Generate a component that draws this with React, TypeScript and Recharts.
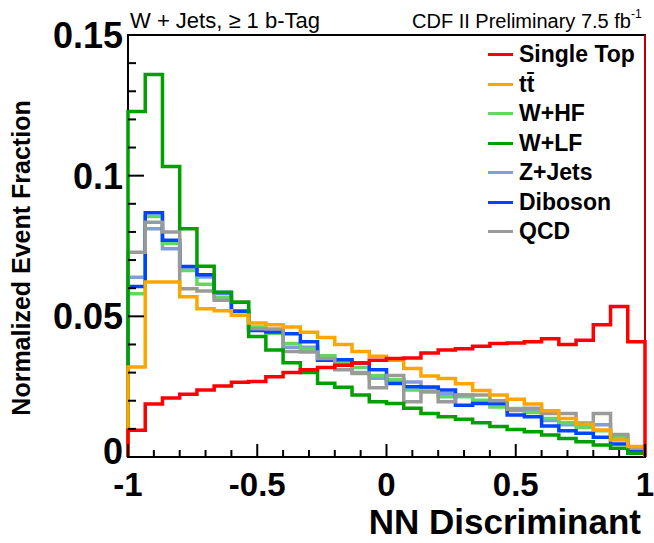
import React from 'react';
import {
  ComposedChart,
  Line,
  XAxis,
  YAxis,
  Legend,
  ReferenceArea,
  ReferenceLine,
} from 'recharts';

// NN discriminant bin edges (30 bins from -1 to 1)
const BIN_EDGES = [
  -1, -0.9333, -0.8667, -0.8, -0.7333, -0.6667, -0.6, -0.5333, -0.4667, -0.4,
  -0.3333, -0.2667, -0.2, -0.1333, -0.0667, 0, 0.0667, 0.1333, 0.2, 0.2667,
  0.3333, 0.4, 0.4667, 0.5333, 0.6, 0.6667, 0.7333, 0.8, 0.8667, 0.9333, 1,
];

const SINGLE_TOP = [
  0.0095, 0.0188, 0.021, 0.0223, 0.0238, 0.0252, 0.0266, 0.0268, 0.0285, 0.03,
  0.031, 0.0318, 0.0326, 0.0334, 0.0344, 0.035, 0.0352, 0.037, 0.038, 0.0385,
  0.0394, 0.0403, 0.0405, 0.041, 0.042, 0.04, 0.0415, 0.047, 0.0535, 0.041,
];
const TTBAR = [
  0.032, 0.0622, 0.0622, 0.057, 0.0527, 0.052, 0.0504, 0.0476, 0.047, 0.0462,
  0.0443, 0.0425, 0.04, 0.0375, 0.0358, 0.0344, 0.0315, 0.0288, 0.0279, 0.026,
  0.0236, 0.022, 0.0205, 0.0188, 0.0164, 0.0137, 0.0116, 0.0096, 0.006, 0.0037,
];
const W_HF = [
  0.058, 0.0855, 0.076, 0.0663, 0.0614, 0.0566, 0.052, 0.0462, 0.044, 0.0403,
  0.0383, 0.036, 0.0338, 0.0318, 0.029, 0.0275, 0.0238, 0.0232, 0.0214, 0.0214,
  0.0202, 0.0178, 0.0172, 0.0158, 0.0137, 0.0122, 0.0105, 0.0093, 0.007, 0.0035,
];
const W_LF = [
  0.1228, 0.136, 0.1033, 0.0811, 0.0678, 0.0586, 0.055, 0.0428, 0.038, 0.0335,
  0.03, 0.0262, 0.0248, 0.022, 0.0196, 0.019, 0.0173, 0.0155, 0.0143, 0.0134,
  0.0122, 0.0108, 0.0098, 0.009, 0.0078, 0.0066, 0.0054, 0.0043, 0.0031, 0.0013,
];
const Z_JETS = [
  0.0639, 0.0811, 0.074, 0.0675, 0.064, 0.058, 0.0518, 0.0452, 0.0448, 0.039,
  0.039, 0.035, 0.033, 0.03, 0.028, 0.0273, 0.0267, 0.0245, 0.0225, 0.022,
  0.02, 0.0185, 0.0165, 0.0165, 0.013, 0.0115, 0.012, 0.0115, 0.0075, 0.0035,
];
const DIBOSON = [
  0.0606, 0.0868, 0.077, 0.0677, 0.0648, 0.0585, 0.0518, 0.045, 0.0444, 0.0438,
  0.041, 0.0344, 0.0346, 0.0334, 0.031, 0.0261, 0.025, 0.0249, 0.0238, 0.0184,
  0.019, 0.019, 0.0149, 0.0143, 0.011, 0.0093, 0.0084, 0.007, 0.0046, 0.002,
];
const QCD = [
  0.0728, 0.0834, 0.08, 0.0598, 0.059, 0.0557, 0.0551, 0.0456, 0.0455, 0.0375,
  0.0373, 0.035, 0.031, 0.0297, 0.0246, 0.029, 0.0196, 0.0232, 0.0196, 0.022,
  0.022, 0.02, 0.017, 0.0173, 0.0155, 0.0155, 0.012, 0.0155, 0.008, 0.0034,
];

const X_TICKS = [-1, -0.9, -0.8, -0.7, -0.6, -0.5, -0.4, -0.3, -0.2, -0.1, 0, 0.1, 0.2, 0.3, 0.4, 0.5, 0.6, 0.7, 0.8, 0.9, 1];
const X_LABELS: Record<string, string> = { '-1': '-1', '-0.5': '-0.5', '0': '0', '0.5': '0.5', '1': '1' };
const Y_TICKS = [0, 0.01, 0.02, 0.03, 0.04, 0.05, 0.06, 0.07, 0.08, 0.09, 0.1, 0.11, 0.12, 0.13, 0.14, 0.15];
const Y_LABELS: Record<string, string> = { '0': '0', '0.05': '0.05', '0.1': '0.1', '0.15': '0.15' };

// legend order; drawing order is DRAW_ORDER
const SERIES = [
  { name: 'Single Top', values: SINGLE_TOP, color: '#ff0000' },
  { name: 'tt\u0304', values: TTBAR, color: '#ffa500' },
  { name: 'W+HF', values: W_HF, color: '#62d862' },
  { name: 'W+LF', values: W_LF, color: '#00a000' },
  { name: 'Z+Jets', values: Z_JETS, color: '#809ed8' },
  { name: 'Diboson', values: DIBOSON, color: '#0044ff' },
  { name: 'QCD', values: QCD, color: '#9a9a9a' },
];
const DRAW_ORDER = ['Z+Jets', 'W+HF', 'Diboson', 'QCD', 'W+LF', 'tt\u0304', 'Single Top'];

const FONT = '"Liberation Sans", Arial, Helvetica, sans-serif';

// histogram outline: up from 0 at the first edge, down to 0 at the last
function stepData(values: number[]) {
  const pts = [{ x: BIN_EDGES[0], y: 0 }];
  values.forEach((v, i) => pts.push({ x: BIN_EDGES[i], y: v }));
  pts.push({ x: BIN_EDGES[values.length], y: values[values.length - 1] });
  pts.push({ x: BIN_EDGES[values.length], y: 0 });
  return pts;
}

const keyOf = (v: number) => String(Math.round(v * 100) / 100);

function YTick(props: any) {
  const { x, y, payload } = props;
  const label = Y_LABELS[keyOf(payload.value)];
  const len = label !== undefined ? 16 : 8;
  return (
    <g>
      <line x1={x} x2={x + len} y1={y} y2={y} stroke="#000" strokeWidth={2} />
      {label !== undefined && (
        <text x={x - 5} y={label === '0' ? y - 6 : y} dy="0.36em" textAnchor="end" fontFamily={FONT} fontWeight="bold" fontSize={36} fill="#000">
          {label}
        </text>
      )}
    </g>
  );
}

function XTick(props: any) {
  const { x, y, payload } = props;
  const label = X_LABELS[keyOf(payload.value)];
  const len = label !== undefined ? 13 : 7;
  return (
    <g>
      <line x1={x} x2={x} y1={y} y2={y - len} stroke="#000" strokeWidth={2} />
      {label !== undefined && (
        <text x={x} y={y + 39} textAnchor="middle" fontFamily={FONT} fontWeight="bold" fontSize={33} fill="#000">
          {label}
        </text>
      )}
    </g>
  );
}

function LegendBox() {
  return (
    <div style={{ fontFamily: FONT, fontWeight: 'bold', fontSize: 23, color: '#000' }}>
      {SERIES.map((s) => (
        <div key={s.name} style={{ display: 'flex', alignItems: 'center', height: 29.5 }}>
          <span style={{ display: 'inline-block', width: 25, height: 3, background: s.color, marginRight: 6 }} />
          <span style={{ whiteSpace: 'nowrap' }}>{s.name}</span>
        </div>
      ))}
    </div>
  );
}

export default function App() {
  const ordered = DRAW_ORDER.map((n) => SERIES.find((s) => s.name === n)!);
  return (
    <div style={{ position: 'absolute', left: 0, top: 0, width: 654, height: 543, background: '#fff' }}>
      <ComposedChart width={654} height={543} margin={{ top: 35, right: 9, bottom: 85, left: 127 }}>
        <ReferenceArea x1={-1} x2={1} y1={0} y2={0.15} fill="none" stroke="#000" strokeWidth={2} />
        <XAxis
          dataKey="x"
          type="number"
          domain={[-1, 1]}
          ticks={X_TICKS}
          interval={0}
          height={1}
          tickSize={0}
          tickMargin={0}
          axisLine={false}
          tickLine={false}
          tick={<XTick />}
          allowDuplicatedCategory={false}
        />
        <YAxis
          type="number"
          domain={[0, 0.15]}
          ticks={Y_TICKS}
          interval={0}
          width={1}
          tickSize={0}
          tickMargin={0}
          axisLine={false}
          tickLine={false}
          tick={<YTick />}
        />
        {ordered.map((s) => (
          <Line
            key={s.name}
            data={stepData(s.values)}
            dataKey="y"
            name={s.name}
            type="stepAfter"
            stroke={s.color}
            strokeWidth={3.5}
            dot={false}
            activeDot={false}
            isAnimationActive={false}
          />
        ))}
        <ReferenceLine x={1} stroke="#ff0000" strokeWidth={1.5} />
        <Legend
          layout="vertical"
          align="center"
          verticalAlign="middle"
          content={<LegendBox />}
          wrapperStyle={{ position: 'absolute', left: 488, top: 40, width: 160 }}
        />
      </ComposedChart>
      <svg width={654} height={543} style={{ position: 'absolute', left: 0, top: 0, pointerEvents: 'none' }}>
        <text x={130} y={28} fontFamily={FONT} fontSize={22} fill="#000">
          W + Jets, ≥ 1 b-Tag
        </text>
        <text x={412} y={28} fontFamily={FONT} fontSize={20} fill="#000">
          CDF II Preliminary 7.5 fb
          <tspan dy={-10} fontSize={12}>-1</tspan>
        </text>
        <text
          transform="translate(30,258) rotate(-90)"
          textAnchor="middle"
          fontFamily={FONT}
          fontWeight="bold"
          fontSize={25}
          fill="#000"
        >
          Normalized Event Fraction
        </text>
        <text x={641} y={534} textAnchor="end" fontFamily={FONT} fontWeight="bold" fontSize={35} fill="#000">
          NN Discriminant
        </text>
      </svg>
    </div>
  );
}
